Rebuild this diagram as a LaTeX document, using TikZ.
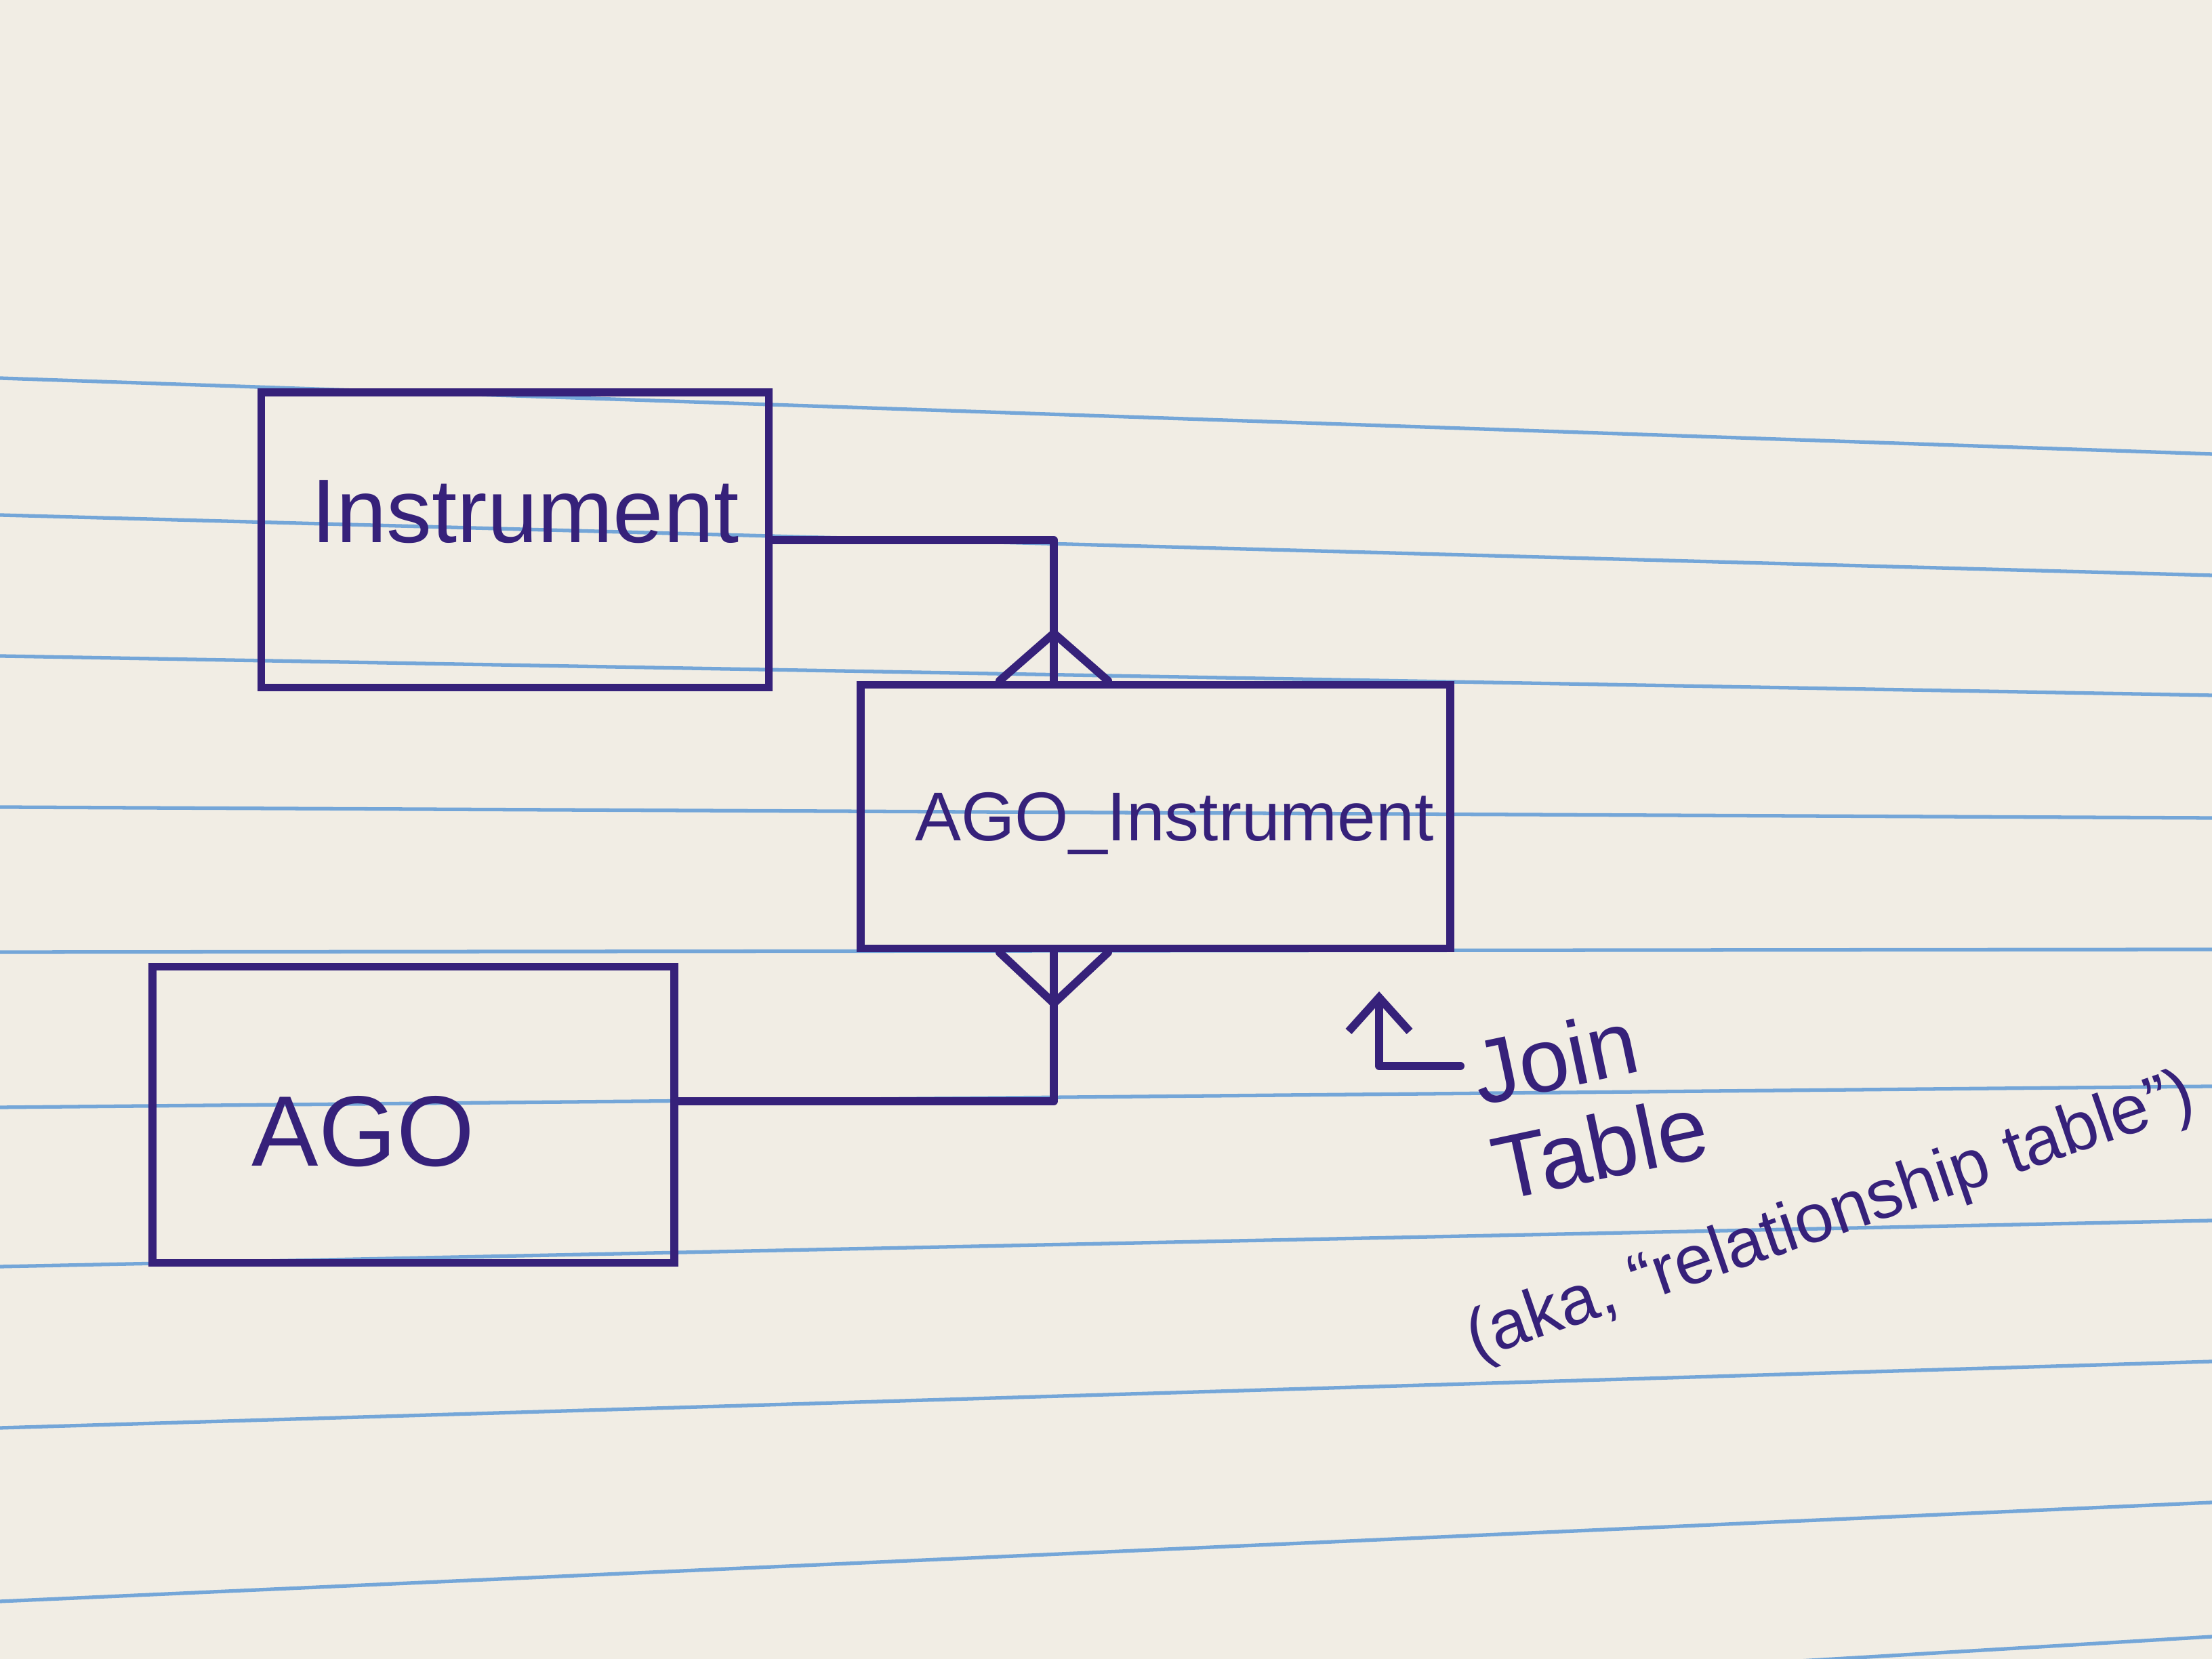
\documentclass[tikz,border=0pt]{standalone}
\usepackage{fontspec}
\setmainfont{Liberation Sans}
\usetikzlibrary{arrows.meta}
\definecolor{paper}{HTML}{F1EDE4}
\definecolor{ink}{HTML}{36217A}
\definecolor{ruleblue}{HTML}{74A6D8}
\begin{document}
\begin{tikzpicture}[
  pen/.style={draw=ink, line width=3.4pt, line cap=round, line join=round},
  entity/.style={draw=ink, line width=3.4pt, rectangle, inner sep=0pt},
  txt/.style={text=ink, inner sep=0pt},
  ruled/.style={draw=ruleblue, line width=1.5pt}
]
% paper
\fill[paper] (0,0) rectangle (32.64,24.48);
\useasboundingbox (0,0) rectangle (32.64,24.48);
\foreach \yl/\yr in {18.90/17.78, 16.88/15.99, 14.80/14.22, 12.57/12.41, 10.43/10.47, 8.14/8.45, 5.79/6.47, 3.41/4.39, 0.85/2.31, -1.60/0.33}
  \draw[ruled] (0,\yl) -- (32.64,\yr);

% entities
\node[entity, minimum width=7.49cm, minimum height=4.35cm] (inst) at (7.60,16.51) {};
\node[txt, font=\fontsize{38}{44}\selectfont] (instT) at (7.75,16.93) {Instrument};
\node[entity, minimum width=8.70cm, minimum height=3.89cm] (aj) at (17.05,12.43) {};
\node[txt, font=\fontsize{29}{34}\selectfont] (ajT) at (17.33,12.33) {AGO\_Instrument};
\node[entity, minimum width=7.70cm, minimum height=4.37cm] (ago) at (6.10,8.03) {};
\node[txt, font=\fontsize{42}{48}\selectfont] (agoT) at (5.36,7.78) {AGO};

% relationships with crow's feet
\draw[pen] (inst.east) -| ([xshift=-1.5cm]aj.north);
\draw[pen] ([xshift=-2.3cm]aj.north) -- ([xshift=-1.5cm,yshift=0.7cm]aj.north) -- ([xshift=-0.7cm]aj.north);
\draw[pen] ([xshift=-1.5cm]aj.south) |- ([yshift=0.2cm]ago.east);
\draw[pen] ([xshift=-2.3cm]aj.south) -- ([xshift=-1.5cm,yshift=-0.75cm]aj.south) -- ([xshift=-0.7cm]aj.south);

% annotation
\node[txt, font=\fontsize{38}{41}\selectfont, align=left, rotate=12] (jt) at (23.46,8.26) {Join\\Table};
\node[txt, font=\fontsize{29}{33}\selectfont, rotate=19] (aka) at (27.02,6.50) {(aka, ``relationship table'')};
\coordinate (arrS) at (21.55,8.75);
\coordinate (arrT) at (20.35,9.85);
\draw[pen, -{Straight Barb[length=5mm,width=9mm]}] (arrS) -| (arrT);
\end{tikzpicture}
\end{document}
